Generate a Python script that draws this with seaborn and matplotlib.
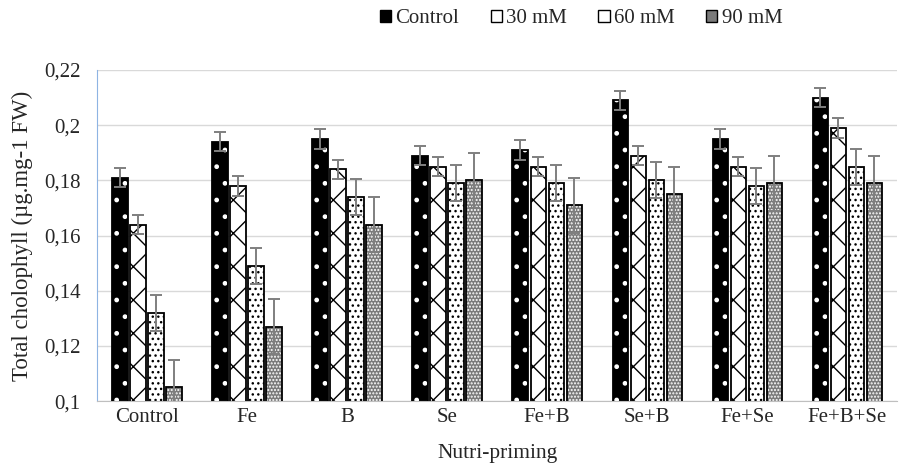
import numpy as np
import pandas as pd
import seaborn as sns
import matplotlib.pyplot as plt
from matplotlib.patches import Patch, Rectangle

categories = ['Control', 'Fe', 'B', 'Se', 'Fe+B', 'Se+B', 'Fe+Se', 'Fe+B+Se']
levels = ['Control', '30 mM', '60 mM', '90 mM']

control = [0.181, 0.194, 0.195, 0.189, 0.191, 0.209, 0.195, 0.210]
mm30 = [0.164, 0.178, 0.184, 0.185, 0.185, 0.189, 0.185, 0.199]
mm60 = [0.132, 0.149, 0.174, 0.179, 0.179, 0.180, 0.178, 0.185]
mm90 = [0.105, 0.127, 0.164, 0.180, 0.171, 0.175, 0.179, 0.179]

err_control = [0.0035] * 8
err_30 = [0.0035] * 8
err_60 = [0.0065] * 8
err_90 = [0.010] * 8

ytick_vals = [0.10, 0.12, 0.14, 0.16, 0.18, 0.20, 0.22]
ytick_labels = ['0,1', '0,12', '0,14', '0,16', '0,18', '0,2', '0,22']

values = [control, mm30, mm60, mm90]
errors = [err_control, err_30, err_60, err_90]

rows = []
for lev, vals in zip(levels, values):
    for cat, v in zip(categories, vals):
        rows.append({'Nutri-priming': cat, 'level': lev, 'value': v})
df = pd.DataFrame(rows)

sns.set_style("white")
plt.rcParams['font.family'] = ['Liberation Serif', 'DejaVu Serif']
plt.rcParams['hatch.linewidth'] = 1.0

# facecolor, hatch, hatch colour
styles = [('black', '.', 'white'),
          ('white', 'x', 'black'),
          ('white', '...', 'black'),
          ('#7a7a7a', '.....', 'white')]

fig = plt.figure(figsize=(8.99, 4.73), dpi=100)
ax = fig.add_axes([0.108, 0.152, 0.89, 0.70])

sns.barplot(data=df, x='Nutri-priming', y='value', hue='level',
            hue_order=levels, order=categories, width=0.72, gap=0.15,
            legend=False, ax=ax)

for cont, (fc, h, hc), err in zip(ax.containers, styles, errors):
    xs, tops = [], []
    for bar in cont:
        bar.set_facecolor(fc)
        bar.set_hatch(h)
        bar.set_edgecolor(hc)
        bar.set_linewidth(0)
        ax.add_patch(Rectangle((bar.get_x(), bar.get_y()), bar.get_width(), bar.get_height(),
                               fill=False, edgecolor='black', linewidth=1.3, zorder=3))
        xs.append(bar.get_x() + bar.get_width() / 2)
        tops.append(bar.get_height())
    ax.errorbar(xs, tops, yerr=err, fmt='none', ecolor='#7f7f7f', elinewidth=1.4,
                capsize=4.5, capthick=1.4, zorder=4)

ax.set_ylim(0.1, 0.22)
ax.set_xlim(-0.5, 7.5)
ax.set_yticks(ytick_vals)
ax.set_yticklabels(ytick_labels)
ax.yaxis.grid(True, color='#d9d9d9', linewidth=1)
ax.set_axisbelow(True)
ax.tick_params(axis='both', labelsize=15, length=0)
ax.tick_params(axis='x', pad=5)
ax.tick_params(axis='y', pad=12)

for side in ['top', 'right']:
    ax.spines[side].set_visible(False)
ax.spines['left'].set_color('#8eb4e3')
ax.spines['bottom'].set_color('#bfbfbf')

ax.set_xlabel('Nutri-priming', fontsize=15.5, labelpad=12)
ax.set_ylabel('Total cholophyll (µg.mg-1 FW)', fontsize=16.5, labelpad=8)

handles = [Patch(facecolor=fc, hatch='', edgecolor='black', linewidth=1) for fc, h, hc in styles]
ax.legend(handles, levels, loc='center', bbox_to_anchor=(0.605, 1.155), ncol=4,
          frameon=False, prop={'family': 'Liberation Serif', 'size': 15},
          handlelength=0.55, handleheight=0.55,
          handletextpad=0.2, columnspacing=1.5, borderpad=0)

fig.savefig('out.png', dpi=100)
